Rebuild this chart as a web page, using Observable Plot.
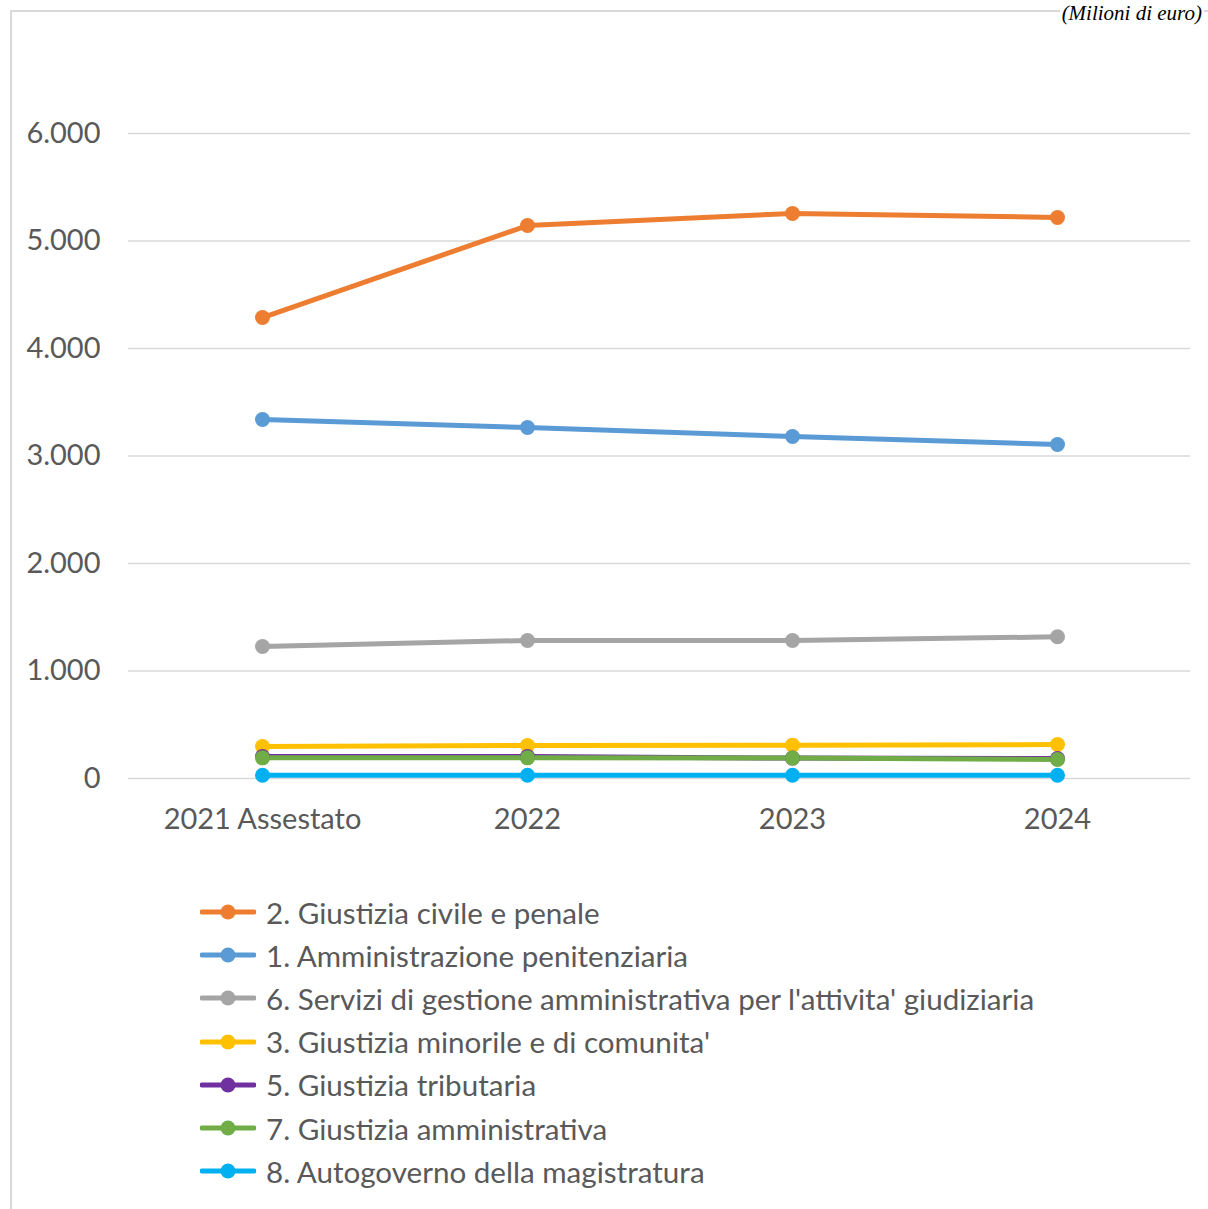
<!DOCTYPE html>
<html>
<head>
<meta charset="utf-8">
<script src="https://cdn.jsdelivr.net/npm/d3@7"></script>
<script src="https://cdn.jsdelivr.net/npm/@observablehq/plot@0.6"></script>
<style>
  html, body { margin: 0; padding: 0; background: #fff; }
  #wrap { position: relative; width: 1208px; height: 1209px; overflow: hidden; font-family: Lato, "Open Sans", sans-serif; }
  #frame { position: absolute; left: 10px; top: 10px; width: 1300px; height: 1300px; border-left: 2px solid #d9d9d9; border-top: 2px solid #d9d9d9; }
  #unit { position: absolute; right: 4px; top: 1px; line-height: 24px; font-family: "Liberation Serif", serif; font-style: italic; font-size: 21px; color: #000; white-space: nowrap; background: #fff; padding: 0 2px; }
  #chart { position: absolute; left: 0; top: 0; }
  #legend { position: absolute; left: 0; top: 0; }
  .row { position: absolute; left: 200px; height: 32px; display: flex; align-items: center; font-size: 29.6px; color: #595959; white-space: nowrap; }
  .row svg { margin-right: 10px; }
</style>
</head>
<body>
<div id="wrap">
  <div id="frame"></div>
  <div id="unit">(Milioni di euro)</div>
  <div id="chart"></div>
  <div id="legend"></div>
</div>
<script>
const categories = ["2021 Assestato", "2022", "2023", "2024"];
const seriesNames = [
  "2. Giustizia civile e penale",
  "1. Amministrazione penitenziaria",
  "6. Servizi di gestione amministrativa per l'attivita' giudiziaria",
  "3. Giustizia minorile e di comunita'",
  "5. Giustizia tributaria",
  "7. Giustizia amministrativa",
  "8. Autogoverno della magistratura"
];
const giustiziaCivile = [4288, 5144, 5256, 5219];
const amministrazionePenitenziaria = [3340, 3265, 3181, 3107];
const serviziGestione = [1228, 1284, 1284, 1318];
const giustiziaMinorile = [298, 307, 310, 316];
const giustiziaTributaria = [205, 205, 190, 185];
const giustiziaAmministrativa = [192, 192, 190, 177];
const autogoverno = [30, 30, 30, 30];
const yTicks = [0, 1000, 2000, 3000, 4000, 5000, 6000];
const colors = ["#ED7D31", "#5B9BD5", "#A5A5A5", "#FFC000", "#7030A0", "#70AD47", "#00B0F0"];

const allValues = [giustiziaCivile, amministrazionePenitenziaria, serviziGestione, giustiziaMinorile, giustiziaTributaria, giustiziaAmministrativa, autogoverno];
const data = [];
seriesNames.forEach((s, i) => categories.forEach((c, j) => data.push({series: s, cat: c, value: allValues[i][j]})));

const it = d3.formatLocale({decimal: ",", thousands: ".", grouping: [3], currency: ["", "€"]}).format(",d");

const chart = Plot.plot({
  width: 1208,
  height: 860,
  marginLeft: 128,
  marginRight: 18,
  marginTop: 133,
  marginBottom: 82,
  style: {fontFamily: "Lato, 'Open Sans', sans-serif", fontSize: "29px", color: "#595959", background: "transparent"},
  x: {type: "point", domain: categories, padding: 0.5, label: null},
  y: {domain: [0, 6000], label: null},
  color: {domain: seriesNames, range: colors},
  marks: [
    Plot.gridY(yTicks, {stroke: "#d9d9d9", strokeOpacity: 1, strokeWidth: 1.5}),
    Plot.axisY(yTicks, {tickSize: 0, tickPadding: 28, tickFormat: it, fontSize: 29, fill: "#595959", label: null}),
    Plot.axisX({tickSize: 0, tickPadding: 30, fontSize: 29, fill: "#595959", label: null}),
    Plot.line(data, {x: "cat", y: "value", z: "series", stroke: "series", strokeWidth: 5, strokeLinecap: "round"}),
    Plot.dot(data, {x: "cat", y: "value", fill: "series", r: 7.5, stroke: "none"})
  ]
});
document.getElementById("chart").appendChild(chart);

const legend = document.getElementById("legend");
seriesNames.forEach((s, i) => {
  const row = document.createElement("div");
  row.className = "row";
  row.style.top = (914 + i * 43.2 - 18) + "px";
  row.innerHTML = `<svg width="56" height="20"><line x1="2" x2="54" y1="10" y2="10" stroke="${colors[i]}" stroke-width="5" stroke-linecap="round"/><circle cx="28" cy="10" r="7.5" fill="${colors[i]}"/></svg><span></span>`;
  row.querySelector("span").textContent = s;
  legend.appendChild(row);
});
</script>
</body>
</html>
